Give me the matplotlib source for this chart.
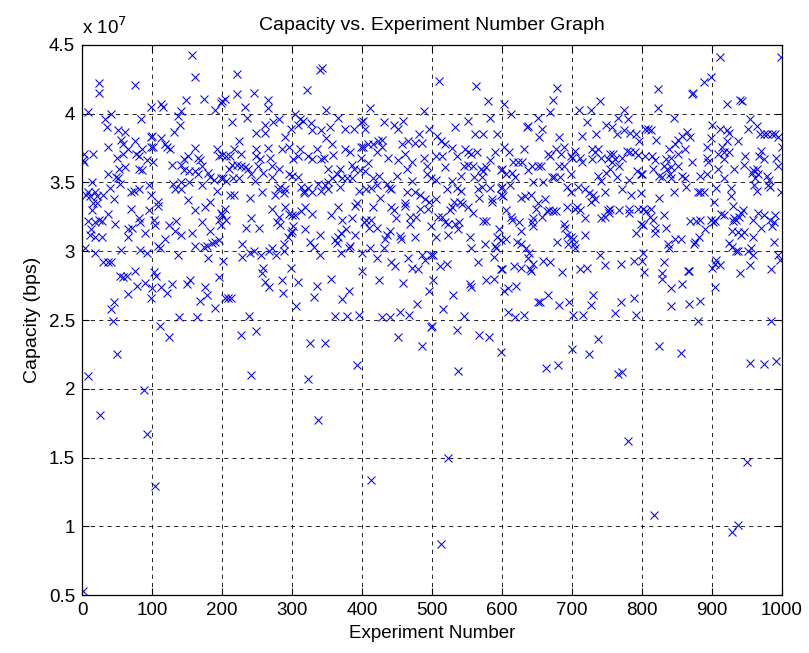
"""Capacity vs. experiment number scatter, MATLAB-style."""
import matplotlib
matplotlib.use("Agg")
import matplotlib.pyplot as plt
from matplotlib.ticker import FormatStrFormatter

# (experiment number, capacity in units of 1e7 bps) per block of 100
pts_000 = [(2, .53), (9, 2.09), (26, 1.81), (93, 1.67), (89, 1.99), (50, 2.25), (44, 2.49), (42, 2.58),
           (45, 2.63), (99, 2.66), (65, 2.69), (78, 2.75), (90, 2.77), (54, 2.82), (59, 2.81), (64, 2.82),
           (75, 2.86), (30, 2.92), (37, 2.92), (41, 2.92), (4, 3.02), (19, 2.99), (56, 3.01), (83, 3.01),
           (93, 2.99), (11, 3.12), (18, 3.10), (28, 3.10), (66, 3.10), (13, 3.16), (66, 3.16), (71, 3.17),
           (90, 3.13), (8, 3.22), (18, 3.21), (24, 3.23), (28, 3.22), (47, 3.20), (82, 3.24), (83, 3.21),
           (14, 3.30), (70, 3.31), (95, 3.30), (37, 3.27), (16, 3.35), (21, 3.35), (5, 3.41), (9, 3.43),
           (12, 3.40), (18, 3.43), (22, 3.40), (30, 3.41), (45, 3.38), (70, 3.43), (74, 3.44), (82, 3.45),
           (98, 3.41), (40, 3.46), (14, 3.50), (54, 3.49), (95, 3.48), (37, 3.56), (48, 3.54), (52, 3.53),
           (62, 3.61), (53, 3.60), (81, 3.60), (86, 3.59), (1, 3.66), (3, 3.65), (50, 3.68), (81, 3.69),
           (93, 3.66), (3, 3.71), (16, 3.71), (59, 3.71), (77, 3.71), (86, 3.74), (37, 3.76), (58, 3.78),
           (66, 3.74), (98, 3.76), (56, 3.81), (75, 3.80), (99, 3.83), (51, 3.88), (61, 3.87), (35, 3.90),
           (33, 3.96), (84, 3.96), (8, 4.01), (42, 4.00), (98, 4.05), (24, 4.22), (24, 4.15), (75, 4.21)]

pts_100 = [(157, 4.43), (161, 4.27), (113, 4.07), (116, 4.05), (148, 4.10), (174, 4.11), (141, 4.02),
           (137, 3.98), (190, 4.03), (199, 4.08), (140, 3.92), (132, 3.87), (100, 3.84), (113, 3.82),
           (118, 3.78), (122, 3.76), (126, 3.74), (101, 3.76), (161, 3.75), (193, 3.74), (196, 3.69),
           (151, 3.69), (146, 3.67), (166, 3.68), (168, 3.66), (102, 3.65), (128, 3.63), (142, 3.63),
           (171, 3.62), (146, 3.59), (153, 3.58), (161, 3.58), (180, 3.57), (166, 3.56), (183, 3.54),
           (188, 3.52), (199, 3.53), (130, 3.49), (142, 3.50), (153, 3.50), (171, 3.48), (133, 3.45),
           (142, 3.45), (193, 3.44), (151, 3.37), (108, 3.36), (109, 3.33), (183, 3.36), (176, 3.32),
           (161, 3.30), (199, 3.28), (103, 3.23), (195, 3.23), (124, 3.19), (134, 3.22), (171, 3.21),
           (104, 3.19), (198, 3.19), (133, 3.15), (142, 3.12), (157, 3.13), (183, 3.15), (118, 3.09),
           (109, 3.04), (112, 3.02), (161, 3.04), (174, 3.03), (178, 3.04), (185, 3.06), (190, 3.07),
           (196, 3.08), (137, 2.97), (180, 2.95), (103, 2.85), (106, 2.82), (113, 2.74), (129, 2.76),
           (121, 2.70), (150, 2.76), (154, 2.79), (176, 2.74), (178, 2.68), (169, 2.64), (195, 2.81),
           (100, 2.73), (190, 2.59), (138, 2.52), (164, 2.52), (111, 2.46), (124, 2.38), (104, 1.29)]

pts_200 = [(222, 4.29), (222, 4.14), (245, 4.15), (200, 4.09), (204, 4.11), (233, 4.05), (265, 4.10),
           (265, 4.04), (236, 3.97), (214, 3.94), (261, 3.92), (273, 3.94), (281, 3.96), (249, 3.86),
           (262, 3.86), (299, 3.89), (224, 3.80), (290, 3.83), (217, 3.74), (249, 3.74), (266, 3.75),
           (285, 3.74), (295, 3.76), (200, 3.70), (206, 3.69), (211, 3.69), (227, 3.71), (249, 3.69),
           (254, 3.67), (269, 3.68), (214, 3.63), (221, 3.63), (227, 3.62), (233, 3.61), (237, 3.60),
           (252, 3.62), (271, 3.62), (281, 3.60), (210, 3.60), (242, 3.56), (259, 3.57), (272, 3.54),
           (296, 3.56), (201, 3.53), (216, 3.53), (224, 3.53), (247, 3.51), (206, 3.51), (283, 3.47),
           (280, 3.45), (290, 3.45), (257, 3.43), (212, 3.41), (217, 3.41), (275, 3.41), (288, 3.42),
           (240, 3.39), (204, 3.31), (271, 3.31), (290, 3.32), (295, 3.27), (281, 3.25), (200, 3.26),
           (206, 3.23), (242, 3.24), (278, 3.21), (283, 3.19), (234, 3.17), (253, 3.17), (299, 3.13),
           (294, 3.10), (228, 3.05), (229, 2.96), (240, 2.99), (246, 3.00), (256, 2.97), (267, 3.00),
           (271, 3.02), (277, 2.97), (288, 3.05), (289, 3.00), (201, 2.93), (259, 2.88), (257, 2.84),
           (262, 2.78), (267, 2.74), (285, 2.79), (287, 2.70), (298, 2.88), (204, 2.66), (209, 2.66),
           (213, 2.66), (238, 2.53), (227, 2.39), (248, 2.42), (242, 2.10)]

pts_300 = [(340, 4.32), (343, 4.33), (321, 4.17), (348, 4.03), (304, 4.00), (365, 3.97), (311, 3.96),
           (316, 3.95), (308, 3.92), (327, 3.93), (342, 3.88), (354, 3.90), (329, 3.88), (375, 3.89),
           (388, 3.89), (398, 3.94), (349, 3.82), (357, 3.78), (398, 3.76), (311, 3.74), (335, 3.74),
           (376, 3.74), (383, 3.72), (301, 3.67), (308, 3.69), (323, 3.69), (329, 3.67), (341, 3.67),
           (346, 3.68), (358, 3.70), (398, 3.68), (386, 3.63), (351, 3.60), (369, 3.60), (388, 3.60),
           (397, 3.59), (300, 3.55), (308, 3.54), (357, 3.53), (364, 3.56), (371, 3.53), (378, 3.53),
           (386, 3.53), (351, 3.50), (337, 3.49), (347, 3.48), (313, 3.47), (369, 3.47), (317, 3.44),
           (323, 3.46), (342, 3.44), (351, 3.45), (317, 3.42), (329, 3.43), (395, 3.44), (393, 3.35),
           (390, 3.33), (365, 3.32), (318, 3.32), (313, 3.29), (300, 3.26), (304, 3.26), (328, 3.27),
           (356, 3.26), (372, 3.23), (386, 3.24), (301, 3.18), (318, 3.16), (300, 3.15), (340, 3.12),
           (377, 3.16), (370, 3.13), (390, 3.12), (366, 3.10), (361, 3.08), (325, 3.07), (364, 3.06),
           (332, 3.03), (383, 3.04), (381, 3.02), (370, 2.99), (340, 2.97), (309, 2.78), (335, 2.75),
           (356, 2.80), (381, 2.71), (331, 2.67), (371, 2.65), (306, 2.60), (361, 2.53), (378, 2.53),
           (395, 2.54), (325, 2.33), (347, 2.33), (393, 2.17), (323, 2.07), (337, 1.77)]

pts_400 = [(411, 4.04), (489, 4.02), (401, 3.95), (432, 3.94), (445, 3.92), (459, 3.95), (451, 3.89),
           (404, 3.89), (481, 3.85), (496, 3.89), (429, 3.81), (401, 3.76), (409, 3.78), (416, 3.78),
           (423, 3.80), (429, 3.76), (457, 3.78), (466, 3.80), (476, 3.79), (485, 3.79), (422, 3.72),
           (437, 3.68), (462, 3.71), (488, 3.68), (409, 3.64), (452, 3.66), (471, 3.65), (493, 3.62),
           (464, 3.60), (404, 3.58), (450, 3.55), (493, 3.56), (416, 3.53), (424, 3.55), (471, 3.51),
           (499, 3.53), (406, 3.45), (413, 3.46), (421, 3.48), (435, 3.49), (438, 3.46), (442, 3.45),
           (464, 3.43), (476, 3.43), (483, 3.41), (425, 3.39), (490, 3.38), (495, 3.36), (461, 3.35),
           (462, 3.33), (416, 3.32), (442, 3.32), (445, 3.30), (483, 3.31), (494, 3.31), (448, 3.24),
           (469, 3.25), (477, 3.25), (403, 3.21), (406, 3.23), (413, 3.23), (469, 3.20), (410, 3.17),
           (422, 3.17), (440, 3.15), (498, 3.18), (436, 3.12), (433, 3.09), (454, 3.11), (455, 3.09),
           (476, 3.10), (400, 2.99), (412, 3.02), (432, 3.02), (421, 2.95), (441, 2.92), (447, 2.89),
           (466, 2.95), (471, 2.88), (480, 2.87), (486, 2.97), (490, 2.94), (499, 2.97), (400, 2.86),
           (424, 2.79), (459, 2.77), (496, 2.71), (478, 2.62), (454, 2.56), (467, 2.54), (429, 2.52),
           (440, 2.52), (452, 2.38), (485, 2.31), (499, 2.45), (413, 1.34)]

pts_500 = [(510, 4.24), (563, 4.20), (580, 4.09), (551, 3.95), (533, 3.90), (583, 3.97), (561, 3.85),
           (573, 3.85), (593, 3.85), (507, 3.84), (513, 3.80), (518, 3.78), (529, 3.75), (547, 3.74),
           (551, 3.72), (556, 3.71), (564, 3.72), (590, 3.72), (505, 3.69), (514, 3.69), (535, 3.69),
           (583, 3.66), (519, 3.61), (545, 3.62), (551, 3.63), (559, 3.62), (570, 3.60), (577, 3.61),
           (573, 3.58), (542, 3.55), (560, 3.54), (598, 3.59), (506, 3.52), (528, 3.51), (571, 3.54),
           (522, 3.45), (536, 3.46), (541, 3.44), (566, 3.45), (571, 3.47), (583, 3.46), (598, 3.46),
           (506, 3.38), (532, 3.36), (540, 3.36), (543, 3.34), (567, 3.39), (585, 3.38), (586, 3.36),
           (598, 3.41), (525, 3.30), (529, 3.32), (551, 3.32), (558, 3.28), (509, 3.25), (514, 3.25),
           (518, 3.21), (523, 3.20), (533, 3.20), (538, 3.21), (573, 3.22), (577, 3.22), (537, 3.16),
           (595, 3.16), (505, 3.10), (523, 3.12), (554, 3.10), (593, 3.10), (598, 3.08), (575, 3.05),
           (556, 3.02), (590, 3.04), (591, 3.02), (501, 2.97), (588, 2.96), (512, 2.89), (522, 2.91),
           (565, 2.92), (598, 2.87), (501, 2.79), (554, 2.76), (556, 2.74), (577, 2.79), (588, 2.80),
           (530, 2.68), (516, 2.58), (545, 2.53), (500, 2.46), (535, 2.43), (567, 2.39), (581, 2.38),
           (598, 2.27), (537, 2.13), (523, 1.50), (513, 0.87)]

pts_600 = [(678, 4.19), (673, 4.10), (603, 4.07), (613, 4.00), (669, 4.01), (651, 3.97), (637, 3.91),
           (636, 3.90), (657, 3.89), (653, 3.83), (681, 3.83), (603, 3.76), (610, 3.72), (632, 3.74),
           (666, 3.71), (669, 3.69), (677, 3.74), (689, 3.76), (685, 3.71), (699, 3.69), (616, 3.65),
           (623, 3.65), (628, 3.65), (643, 3.62), (651, 3.62), (656, 3.62), (681, 3.62), (688, 3.62),
           (600, 3.60), (606, 3.56), (614, 3.57), (619, 3.54), (637, 3.59), (698, 3.56), (671, 3.54),
           (675, 3.54), (683, 3.54), (645, 3.50), (659, 3.50), (611, 3.48), (600, 3.47), (693, 3.47),
           (698, 3.43), (601, 3.40), (627, 3.39), (633, 3.40), (641, 3.41), (662, 3.38), (651, 3.35),
           (648, 3.31), (664, 3.29), (667, 3.30), (673, 3.29), (677, 3.29), (693, 3.32), (606, 3.30),
           (657, 3.25), (645, 3.24), (613, 3.25), (614, 3.23), (643, 3.21), (624, 3.21), (688, 3.20),
           (690, 3.17), (644, 3.18), (627, 3.15), (693, 3.12), (698, 3.10), (605, 3.09), (622, 3.07),
           (627, 3.05), (678, 3.07), (695, 3.05), (635, 3.02), (638, 2.99), (637, 2.95), (617, 2.89),
           (627, 2.88), (640, 2.87), (641, 2.86), (645, 2.91), (659, 2.93), (668, 2.92), (686, 2.85),
           (600, 2.87), (620, 2.75), (603, 2.71), (609, 2.73), (651, 2.63), (654, 2.63), (666, 2.68),
           (681, 2.61), (696, 2.63), (609, 2.56), (619, 2.52), (632, 2.54), (700, 2.29), (663, 2.15),
           (680, 2.17)]

pts_700 = [(740, 4.09), (710, 4.03), (727, 4.03), (774, 4.03), (766, 3.97), (780, 3.96), (722, 3.94),
           (748, 3.92), (757, 3.90), (764, 3.85), (774, 3.88), (783, 3.86), (792, 3.85), (714, 3.84),
           (734, 3.85), (796, 3.80), (705, 3.73), (729, 3.74), (737, 3.74), (733, 3.72), (754, 3.71),
           (759, 3.71), (778, 3.73), (783, 3.72), (790, 3.72), (795, 3.70), (700, 3.68), (711, 3.68),
           (728, 3.67), (742, 3.68), (752, 3.67), (762, 3.67), (771, 3.68), (714, 3.65), (757, 3.65),
           (767, 3.62), (754, 3.60), (748, 3.57), (793, 3.58), (737, 3.55), (764, 3.54), (799, 3.56),
           (742, 3.51), (781, 3.52), (709, 3.47), (718, 3.45), (724, 3.42), (730, 3.41), (747, 3.43),
           (772, 3.45), (785, 3.41), (798, 3.42), (727, 3.36), (733, 3.38), (704, 3.31), (707, 3.32),
           (711, 3.30), (752, 3.30), (755, 3.31), (767, 3.30), (781, 3.31), (782, 3.28), (795, 3.31),
           (719, 3.24), (742, 3.24), (747, 3.25), (753, 3.28), (799, 3.20), (701, 3.09), (703, 3.05),
           (705, 3.02), (719, 3.12), (792, 3.13), (740, 2.97), (712, 2.87), (721, 2.88), (747, 2.90),
           (770, 2.91), (788, 2.93), (730, 2.68), (727, 2.61), (770, 2.63), (789, 2.66), (701, 2.54),
           (716, 2.54), (761, 2.55), (791, 2.54), (737, 2.36), (724, 2.25), (766, 2.11), (771, 2.12),
           (780, 1.62)]

pts_800 = [(823, 4.18), (871, 4.14), (873, 4.15), (888, 4.23), (898, 4.27), (823, 4.04), (846, 3.97),
           (805, 3.89), (809, 3.89), (813, 3.88), (820, 3.81), (857, 3.84), (864, 3.87), (869, 3.83),
           (852, 3.81), (847, 3.78), (899, 3.82), (838, 3.74), (861, 3.74), (893, 3.76), (805, 3.69),
           (814, 3.69), (819, 3.66), (834, 3.67), (842, 3.68), (851, 3.71), (893, 3.68), (872, 3.65),
           (894, 3.65), (816, 3.60), (832, 3.62), (836, 3.60), (842, 3.61), (852, 3.62), (800, 3.56),
           (824, 3.55), (829, 3.54), (841, 3.53), (857, 3.55), (861, 3.53), (883, 3.55), (893, 3.56),
           (840, 3.56), (863, 3.47), (846, 3.43), (880, 3.43), (883, 3.43), (888, 3.43), (825, 3.39),
           (801, 3.31), (806, 3.29), (813, 3.31), (811, 3.25), (816, 3.23), (832, 3.26), (869, 3.22),
           (877, 3.22), (883, 3.23), (899, 3.23), (801, 3.19), (819, 3.17), (819, 3.13), (835, 3.17),
           (890, 3.16), (847, 3.09), (856, 3.09), (881, 3.10), (837, 3.05), (839, 3.02), (874, 3.05),
           (876, 3.07), (801, 2.99), (800, 2.93), (832, 2.92), (803, 2.85), (829, 2.84), (829, 2.80),
           (866, 2.86), (867, 2.86), (857, 2.76), (842, 2.73), (883, 2.64), (867, 2.62), (841, 2.60),
           (880, 2.49), (825, 2.31), (856, 2.26), (817, 1.08)]

pts_900 = [(911, 4.41), (999, 4.41), (922, 4.07), (940, 4.10), (943, 4.09), (954, 3.96), (900, 3.92),
           (912, 3.89), (921, 3.88), (924, 3.86), (951, 3.89), (964, 3.91), (969, 3.85), (974, 3.85),
           (978, 3.85), (986, 3.85), (990, 3.85), (995, 3.83), (1000, 3.76), (922, 3.80), (937, 3.80),
           (914, 3.76), (909, 3.71), (917, 3.72), (924, 3.72), (970, 3.73), (947, 3.69), (967, 3.69),
           (975, 3.67), (991, 3.68), (917, 3.67), (932, 3.60), (908, 3.60), (994, 3.62), (946, 3.63),
           (964, 3.60), (959, 3.59), (957, 3.57), (966, 3.56), (978, 3.55), (981, 3.52), (917, 3.53),
           (962, 3.53), (960, 3.48), (980, 3.48), (983, 3.47), (964, 3.44), (906, 3.46), (927, 3.46),
           (927, 3.40), (998, 3.43), (903, 3.36), (930, 3.33), (945, 3.30), (913, 3.27), (917, 3.26),
           (931, 3.24), (938, 3.25), (942, 3.28), (959, 3.23), (966, 3.28), (974, 3.26), (990, 3.26),
           (901, 3.21), (904, 3.22), (930, 3.22), (935, 3.23), (970, 3.17), (983, 3.23), (986, 3.18),
           (988, 3.21), (929, 3.15), (937, 3.14), (942, 3.12), (946, 3.14), (959, 3.10), (989, 3.07),
           (924, 3.06), (929, 3.03), (935, 3.00), (937, 3.00), (951, 3.00), (956, 3.02), (959, 2.97),
           (995, 2.97), (997, 2.94), (906, 2.94), (905, 2.91), (911, 2.90), (900, 2.88), (954, 2.90),
           (940, 2.84), (984, 2.87), (905, 2.74), (985, 2.49), (954, 2.19), (975, 2.18), (991, 2.20),
           (950, 1.47), (929, 0.96), (937, 1.01)]

blocks = [pts_000, pts_100, pts_200, pts_300, pts_400, pts_500, pts_600, pts_700, pts_800, pts_900]
experiment = [p[0] for b in blocks for p in b]
capacity = [p[1] for b in blocks for p in b]

xticks = list(range(0, 1001, 100))
yticks = [0.5, 1, 1.5, 2, 2.5, 3, 3.5, 4, 4.5]

plt.rcParams['font.family'] = ['Liberation Sans', 'DejaVu Sans']

fig = plt.figure(figsize=(8.09, 6.53), dpi=100)
ax = fig.add_axes([0.1014, 0.0888, 0.8652, 0.8423])

# Blue crosses, no line, like MATLAB plot(x, y, 'bx')
ax.plot(experiment, capacity, linestyle='none', marker='x', color='blue',
        markersize=5.5, markeredgewidth=0.75)

ax.set_xlim(0, 1000)
ax.set_ylim(0.5, 4.5)
ax.set_xticks(xticks)
ax.set_yticks(yticks)
ax.yaxis.set_major_formatter(FormatStrFormatter('%g'))
ax.tick_params(direction='in', length=5, top=True, right=True, labelsize=13.5, width=0.8, pad=5)
ax.grid(True, color='black', linestyle=(0, (5, 5)), linewidth=0.6)
for s in ax.spines.values():
    s.set_linewidth(0.9)

ax.set_title('Capacity vs. Experiment Number Graph', fontsize=14, pad=11)
ax.set_xlabel('Experiment Number', fontsize=13.5, labelpad=4)
ax.set_ylabel('Capacity (bps)', fontsize=14, labelpad=6)
ax.text(0.0, 1.012, 'x 10$^{7}$', transform=ax.transAxes, fontsize=13.5, ha='left', va='bottom')

fig.savefig('out.png', dpi=100)
